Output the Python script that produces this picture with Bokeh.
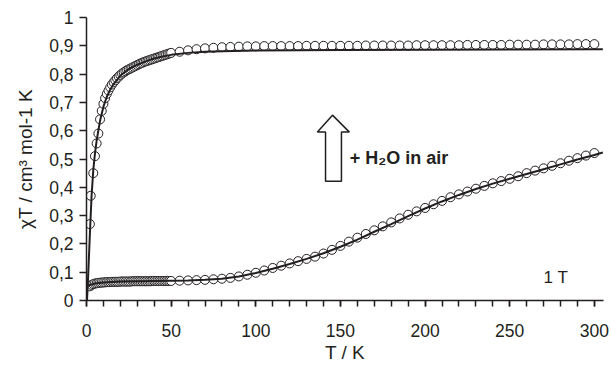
from bokeh.plotting import figure
from bokeh.models import SingleIntervalTicker, FixedTicker, Label, Range1d, Title
from bokeh.embed import file_html
from bokeh.resources import INLINE

# ---- data ----
# dried sample (lower), dense low-T part
T_dense = [2, 3, 4, 5, 6, 7, 8, 9, 10, 11, 12, 13, 14, 15, 16, 17, 18, 19, 20,
           21, 22, 23, 24, 25, 26, 27, 28, 29, 30, 31, 32, 33, 34, 35, 36, 37, 38,
           39, 40, 41, 42, 43, 44, 45, 46, 47, 48, 49, 50]
low_dense = [0.050, 0.055, 0.058, 0.060, 0.061, 0.062, 0.063, 0.063, 0.064, 0.064,
             0.065, 0.065, 0.065, 0.066, 0.066, 0.066, 0.066, 0.066, 0.067, 0.067,
             0.067, 0.067, 0.067, 0.067, 0.067, 0.068, 0.068, 0.068, 0.068, 0.068,
             0.068, 0.068, 0.068, 0.068, 0.068, 0.068, 0.068, 0.069, 0.069, 0.069,
             0.069, 0.069, 0.069, 0.069, 0.069, 0.069, 0.069, 0.069, 0.069]
# hydrated sample (upper), dense low-T part
T_dense_up = [2, 2.5, 4, 5, 6, 7, 8, 9, 10, 11, 12, 13, 14, 15, 16, 17, 18, 19, 20,
              21, 22, 23, 24, 25, 26, 27, 28, 29, 30, 31, 32, 33, 34, 35, 36, 37, 38,
              39, 40, 41, 42, 43, 44, 45, 46, 47, 48, 49, 50]
up_dense = [0.27, 0.37, 0.45, 0.51, 0.555, 0.59, 0.64, 0.67, 0.695, 0.715, 0.73,
            0.742, 0.753, 0.763, 0.771, 0.778, 0.785, 0.791, 0.797, 0.802, 0.806,
            0.810, 0.814, 0.817, 0.820, 0.823, 0.826, 0.829, 0.832, 0.835, 0.838,
            0.840, 0.843, 0.845, 0.847, 0.849, 0.851, 0.853, 0.855, 0.857, 0.859,
            0.861, 0.863, 0.865, 0.867, 0.869, 0.871, 0.873, 0.875]
# sparse part 55..300 K
T_sparse = [55, 60, 65, 70, 75, 80, 85, 90, 95, 100, 105, 110, 115, 120, 125, 130,
            135, 140, 145, 150, 155, 160, 165, 170, 175, 180, 185, 190, 195, 200,
            205, 210, 215, 220, 225, 230, 235, 240, 245, 250, 255, 260, 265, 270,
            275, 280, 285, 290, 295, 300]
low_sparse = [0.070, 0.071, 0.072, 0.073, 0.075, 0.077, 0.080, 0.085, 0.091, 0.098,
              0.106, 0.115, 0.123, 0.131, 0.139, 0.147, 0.155, 0.166, 0.179, 0.193,
              0.208, 0.222, 0.235, 0.248, 0.262, 0.276, 0.290, 0.303, 0.315, 0.327,
              0.340, 0.352, 0.365, 0.375, 0.385, 0.395, 0.405, 0.414, 0.422, 0.430,
              0.439, 0.450, 0.459, 0.467, 0.476, 0.485, 0.494, 0.503, 0.512, 0.521]
up_sparse = [0.879, 0.884, 0.888, 0.891, 0.893, 0.895, 0.896, 0.897, 0.898, 0.898,
             0.899, 0.899, 0.899, 0.899, 0.899, 0.900, 0.900, 0.900, 0.900, 0.900,
             0.900, 0.900, 0.901, 0.901, 0.901, 0.901, 0.901, 0.901, 0.902, 0.902,
             0.902, 0.902, 0.902, 0.902, 0.903, 0.903, 0.903, 0.903, 0.903, 0.904,
             0.904, 0.904, 0.904, 0.905, 0.905, 0.905, 0.905, 0.906, 0.906, 0.906]
# fitted curves
fit_up_T = [0.3, 1, 2, 3, 4, 5, 6, 7, 8, 9, 10, 12, 14, 16, 20, 25, 30, 35, 40, 45,
            50, 60, 70, 80, 100, 150, 200, 250, 305]
fit_up = [0.0, 0.09, 0.235, 0.37, 0.46, 0.52, 0.565, 0.60, 0.635, 0.66, 0.685, 0.72,
          0.745, 0.765, 0.795, 0.818, 0.833, 0.845, 0.855, 0.862, 0.868, 0.875, 0.879,
          0.881, 0.883, 0.885, 0.886, 0.887, 0.888]
fit_low_T = [0.3, 2, 5, 10, 20, 30, 40, 50, 60, 70, 80, 90, 100, 110, 120, 130, 140,
             150, 160, 170, 180, 190, 200, 210, 220, 230, 240, 250, 260, 270, 280,
             290, 300, 305]
fit_low = [0.05, 0.055, 0.06, 0.064, 0.067, 0.068, 0.069, 0.07, 0.071, 0.073, 0.077,
           0.085, 0.097, 0.112, 0.129, 0.147, 0.167, 0.19, 0.215, 0.243, 0.27, 0.298,
           0.325, 0.35, 0.373, 0.394, 0.413, 0.43, 0.447, 0.464, 0.481, 0.498, 0.514,
           0.523]

y_ticks = [0, 0.1, 0.2, 0.3, 0.4, 0.5, 0.6, 0.7, 0.8, 0.9, 1]
y_tick_labels = ["0", "0,1", "0,2", "0,3", "0,4", "0,5", "0,6", "0,7", "0,8", "0,9", "1"]

FONT = "Liberation Sans"
INK = "#231f20"

p = figure(width=611, height=366, output_backend="svg", toolbar_location=None,
           x_range=Range1d(0, 305.4), y_range=Range1d(0, 1),
           min_border_left=86, min_border_right=8, min_border_top=17,
           min_border_bottom=66)
p.outline_line_color = None
p.grid.visible = False
p.background_fill_color = "white"

# markers
mk = dict(size=9, marker="circle", fill_color="white", line_color=INK, line_width=1)
p.scatter(T_dense, low_dense, **mk)
p.scatter(T_dense_up, up_dense, **mk)
p.scatter(T_sparse, low_sparse, **mk)
p.scatter(T_sparse, up_sparse, **mk)
# fits
p.line(fit_up_T, fit_up, line_color=INK, line_width=2)
p.line(fit_low_T, fit_low, line_color=INK, line_width=2)

# hollow arrow annotation
arrow_x = [141.2, 141.2, 136.4, 145.3, 155.3, 150.6, 150.6]
arrow_y = [0.421, 0.595, 0.595, 0.655, 0.595, 0.595, 0.421]
p.patch(arrow_x, arrow_y, fill_color="white", line_color=INK, line_width=1.5)

p.add_layout(Label(x=155.5, y=0.502, text="+ H\u2082O in air", text_font=FONT,
                   text_font_size="18px", text_font_style="bold", text_color=INK,
                   text_baseline="alphabetic"))
p.add_layout(Label(x=270, y=0.081, text="1 T", text_font=FONT,
                   text_font_size="17px", text_color=INK, text_baseline="alphabetic"))

# axes
for ax in (p.xaxis[0], p.yaxis[0]):
    ax.axis_line_color = INK
    ax.axis_line_width = 1.5
    ax.major_tick_line_color = INK
    ax.minor_tick_line_color = INK
    ax.major_tick_line_width = 1.5
    ax.minor_tick_line_width = 1.5
    ax.major_tick_in = 0
    ax.minor_tick_in = 0
    ax.major_label_text_font = FONT
    ax.major_label_text_font_size = "17.5px"
    ax.major_label_text_color = INK

p.xaxis.ticker = SingleIntervalTicker(interval=50, num_minor_ticks=5)
p.xaxis.major_tick_out = 6
p.xaxis.minor_tick_out = 6
p.xaxis.major_label_standoff = 17

p.yaxis.ticker = FixedTicker(ticks=y_ticks)
p.yaxis.major_label_overrides = dict(zip(y_ticks, y_tick_labels))
p.yaxis.major_tick_out = 7
p.yaxis.major_label_standoff = 6
p.yaxis.axis_label = "\u03c7T / cm\u00b3 mol-1 K"
p.yaxis.axis_label_text_font = FONT
p.yaxis.axis_label_text_font_size = "19px"
p.yaxis.axis_label_text_font_style = "normal"
p.yaxis.axis_label_text_color = INK
p.yaxis.axis_label_standoff = 10

# x-axis title, placed below the tick labels and shifted left as in the original
p.add_layout(Title(text="T / K", align="center", offset=-14, standoff=0,
                   text_font=FONT, text_font_size="19px", text_font_style="normal",
                   text_color=INK), "below")

open("out.html", "w").write(file_html(p, INLINE))
